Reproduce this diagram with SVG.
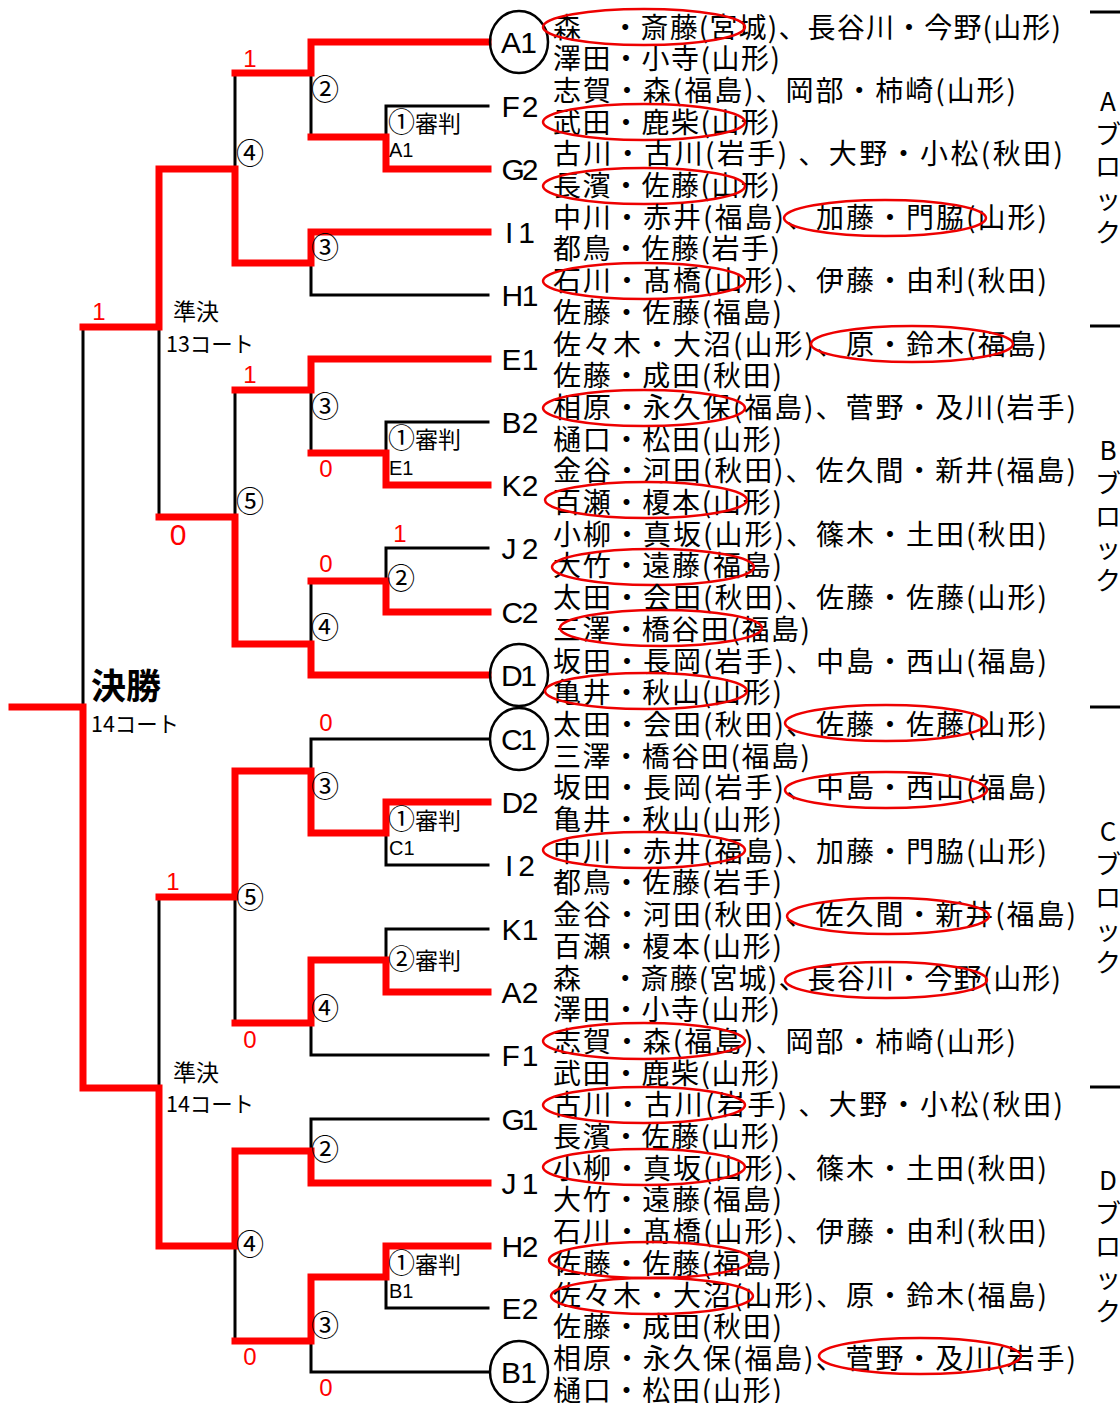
<svg xmlns="http://www.w3.org/2000/svg" width="1120" height="1403" viewBox="0 0 1120 1403">
<style>
.t{font-family:"Noto Sans CJK JP",sans-serif;font-size:28px;fill:#000}
.lb{font-family:"Liberation Sans",sans-serif;font-size:30px;fill:#000;text-anchor:middle}
.n{font-family:"Noto Sans CJK JP",sans-serif;font-size:28px;fill:#000}
.ref{font-family:"Noto Sans CJK JP",sans-serif;font-size:23px;fill:#000}
.ref .cn{font-size:27px}
.sm{font-family:"Liberation Sans",sans-serif;font-size:20px;fill:#000}
.sc{font-family:"Liberation Sans",sans-serif;font-size:24px;fill:#f00;text-anchor:middle}
.big{font-size:30px}
.cap{font-family:"Noto Sans CJK JP",sans-serif;font-size:23px;fill:#000}
.court{font-size:22px}
.fin{font-size:35px;font-weight:bold}
.blk{font-family:"Noto Sans CJK JP",sans-serif;font-size:26px;fill:#000;text-anchor:middle}
.w{fill:none;stroke:#f00;stroke-width:7;stroke-linejoin:miter;stroke-linecap:square}
.l{fill:none;stroke:#000;stroke-width:3;stroke-linecap:square}
.ov{fill:none;stroke:#e00;stroke-width:2.5}
.c{fill:none;stroke:#000;stroke-width:2.5}
.sep{stroke:#000;stroke-width:3}
</style>
<rect width="1120" height="1403" fill="#fff"/>
<g id="connectors">
<path class="l" d="M311,73V137 M488,106H386V137 M488,295H311V263 M235,73V169 M159,327V517 M83,327V707 M311,390V453 M488,422H386V453 M488,548H386V581 M311,581V644 M235,390V517 M488,739H311V771 M488,865H386V833 M488,929H386V960 M488,1055H311V1023 M235,897V1023 M159,897V1088 M488,1119H311V1151 M488,1308H386V1277 M488,1372H311V1341 M235,1246V1341"/>
<path class="w" d="M488,42H311V73H235"/>
<path class="w" d="M488,169H386V137H311"/>
<path class="w" d="M488,232H311V263H235V169H159V327H83"/>
<path class="w" d="M488,359H311V390H235"/>
<path class="w" d="M488,485H386V453H311"/>
<path class="w" d="M488,612H386V581H311"/>
<path class="w" d="M488,675H311V644H235V517H159"/>
<path class="w" d="M488,802H386V833H311V771H235V897H159"/>
<path class="w" d="M488,992H386V960H311V1023H235"/>
<path class="w" d="M488,1183H311V1151H235V1246H159V1088H83V707H12"/>
<path class="w" d="M488,1246H386V1277H311V1341H235"/>
</g>
<g id="round-labels">
<text class="n" x="311" y="100">②</text>
<text class="n" x="236" y="164">④</text>
<text class="n" x="311" y="258">③</text>
<text class="ref" x="388" y="132"><tspan class="cn">①</tspan>審判</text>
<text class="sm" x="389" y="157">A1</text>
<text class="n" x="311" y="417">③</text>
<text class="n" x="236" y="512">⑤</text>
<text class="ref" x="388" y="448"><tspan class="cn">①</tspan>審判</text>
<text class="sm" x="389" y="475">E1</text>
<text class="n" x="387" y="589">②</text>
<text class="n" x="311" y="638">④</text>
<text class="n" x="311" y="797">③</text>
<text class="ref" x="388" y="829"><tspan class="cn">①</tspan>審判</text>
<text class="sm" x="389" y="855">C1</text>
<text class="n" x="236" y="908">⑤</text>
<text class="ref" x="388" y="969"><tspan class="cn">②</tspan>審判</text>
<text class="n" x="311" y="1019">④</text>
<text class="n" x="311" y="1160">②</text>
<text class="n" x="236" y="1255">④</text>
<text class="ref" x="388" y="1273"><tspan class="cn">①</tspan>審判</text>
<text class="sm" x="389" y="1298">B1</text>
<text class="n" x="311" y="1336">③</text>
<text class="cap" x="173" y="320">準決</text>
<text class="cap court" x="166" y="352" textLength="88" lengthAdjust="spacingAndGlyphs">13コート</text>
<text class="cap fin" x="91" y="699">決勝</text>
<text class="cap court" x="91" y="732" textLength="88" lengthAdjust="spacingAndGlyphs">14コート</text>
<text class="cap" x="173" y="1081">準決</text>
<text class="cap court" x="166" y="1112" textLength="88" lengthAdjust="spacingAndGlyphs">14コート</text>
</g>
<g id="scores">
<text class="sc" x="250" y="67">1</text>
<text class="sc" x="99" y="320">1</text>
<text class="sc" x="250" y="383">1</text>
<text class="sc" x="326" y="477">0</text>
<text class="sc big" x="178" y="545">0</text>
<text class="sc" x="400" y="542">1</text>
<text class="sc" x="326" y="572">0</text>
<text class="sc" x="326" y="731">0</text>
<text class="sc" x="173" y="890">1</text>
<text class="sc" x="250" y="1048">0</text>
<text class="sc" x="250" y="1365">0</text>
<text class="sc" x="326" y="1396">0</text>
</g>
<g id="blocks">
<line class="sep" x1="1090" y1="12" x2="1120" y2="12"/>
<line class="sep" x1="1090" y1="326" x2="1120" y2="326"/>
<line class="sep" x1="1090" y1="707" x2="1120" y2="707"/>
<line class="sep" x1="1090" y1="1087" x2="1120" y2="1087"/>
<text class="blk" x="1108" y="111">A</text><text class="blk" x="1108" y="144">ブ</text><text class="blk" x="1108" y="176">ロ</text><text class="blk" x="1108" y="209">ッ</text><text class="blk" x="1108" y="242">ク</text>
<text class="blk" x="1108" y="460">B</text><text class="blk" x="1108" y="493">ブ</text><text class="blk" x="1108" y="526">ロ</text><text class="blk" x="1108" y="558">ッ</text><text class="blk" x="1108" y="590">ク</text>
<text class="blk" x="1108" y="841">C</text><text class="blk" x="1108" y="874">ブ</text><text class="blk" x="1108" y="907">ロ</text><text class="blk" x="1108" y="940">ッ</text><text class="blk" x="1108" y="972">ク</text>
<text class="blk" x="1108" y="1190">D</text><text class="blk" x="1108" y="1223">ブ</text><text class="blk" x="1108" y="1256">ロ</text><text class="blk" x="1108" y="1288">ッ</text><text class="blk" x="1108" y="1321">ク</text>
</g>
<g id="team-A1">
<ellipse class="c" cx="519" cy="42" rx="29" ry="31"/>
<text class="lb" x="519" y="53" textLength="36" lengthAdjust="spacing">A1</text>
<text class="t" x="553" y="37.5" textLength="508" lengthAdjust="spacing">森　・斎藤(宮城)、長谷川・今野(山形)</text>
<text class="t" x="553" y="69.2" textLength="227" lengthAdjust="spacing">澤田・小寺(山形)</text>
<ellipse class="ov" cx="644" cy="27" rx="101" ry="18"/>
</g>
<g id="team-F2">
<text class="lb" x="520" y="117" textLength="37" lengthAdjust="spacing">F2</text>
<text class="t" x="553" y="100.9" textLength="463" lengthAdjust="spacing">志賀・森(福島)、岡部・柿崎(山形)</text>
<text class="t" x="553" y="132.6" textLength="227" lengthAdjust="spacing">武田・鹿柴(山形)</text>
<ellipse class="ov" cx="644" cy="122" rx="101" ry="18"/>
</g>
<g id="team-G2">
<text class="lb" x="520" y="180" textLength="37" lengthAdjust="spacing">G2</text>
<text class="t" x="553" y="164.3" textLength="510" lengthAdjust="spacing">古川・古川(岩手) 、大野・小松(秋田)</text>
<text class="t" x="553" y="196" textLength="227" lengthAdjust="spacing">長濱・佐藤(山形)</text>
<ellipse class="ov" cx="644" cy="186" rx="101" ry="18"/>
</g>
<g id="team-I1">
<text class="lb" x="520" y="243" textLength="30" lengthAdjust="spacing">I1</text>
<text class="t" x="553" y="227.7" textLength="494" lengthAdjust="spacing">中川・赤井(福島)、加藤・門脇(山形)</text>
<text class="t" x="553" y="259.4" textLength="227" lengthAdjust="spacing">都鳥・佐藤(岩手)</text>
<ellipse class="ov" cx="885" cy="218" rx="101" ry="18"/>
</g>
<g id="team-H1">
<text class="lb" x="520" y="306" textLength="37" lengthAdjust="spacing">H1</text>
<text class="t" x="553" y="291.1" textLength="494" lengthAdjust="spacing">石川・髙橋(山形)、伊藤・由利(秋田)</text>
<text class="t" x="553" y="322.8" textLength="229" lengthAdjust="spacing">佐藤・佐藤(福島)</text>
<ellipse class="ov" cx="644" cy="281" rx="101" ry="18"/>
</g>
<g id="team-E1">
<text class="lb" x="520" y="370" textLength="37" lengthAdjust="spacing">E1</text>
<text class="t" x="553" y="354.5" textLength="494" lengthAdjust="spacing">佐々木・大沼(山形)、原・鈴木(福島)</text>
<text class="t" x="553" y="386.2" textLength="229" lengthAdjust="spacing">佐藤・成田(秋田)</text>
<ellipse class="ov" cx="912" cy="344" rx="101" ry="18"/>
</g>
<g id="team-B2">
<text class="lb" x="520" y="433" textLength="37" lengthAdjust="spacing">B2</text>
<text class="t" x="553" y="417.9" textLength="523" lengthAdjust="spacing">相原・永久保(福島)、菅野・及川(岩手)</text>
<text class="t" x="553" y="449.6" textLength="229" lengthAdjust="spacing">樋口・松田(山形)</text>
<ellipse class="ov" cx="644" cy="408" rx="101" ry="18"/>
</g>
<g id="team-K2">
<text class="lb" x="520" y="496" textLength="37" lengthAdjust="spacing">K2</text>
<text class="t" x="553" y="481.3" textLength="523" lengthAdjust="spacing">金谷・河田(秋田)、佐久間・新井(福島)</text>
<text class="t" x="553" y="513" textLength="229" lengthAdjust="spacing">百瀬・榎本(山形)</text>
<ellipse class="ov" cx="646" cy="500" rx="101" ry="18"/>
</g>
<g id="team-J2">
<text class="lb" x="520" y="559" textLength="37" lengthAdjust="spacing">J2</text>
<text class="t" x="553" y="544.7" textLength="494" lengthAdjust="spacing">小柳・真坂(山形)、篠木・土田(秋田)</text>
<text class="t" x="553" y="576.4" textLength="229" lengthAdjust="spacing">大竹・遠藤(福島)</text>
<ellipse class="ov" cx="653" cy="567" rx="101" ry="18"/>
</g>
<g id="team-C2">
<text class="lb" x="520" y="623" textLength="37" lengthAdjust="spacing">C2</text>
<text class="t" x="553" y="608.1" textLength="494" lengthAdjust="spacing">太田・会田(秋田)、佐藤・佐藤(山形)</text>
<text class="t" x="553" y="639.8" textLength="257" lengthAdjust="spacing">三澤・橋谷田(福島)</text>
<ellipse class="ov" cx="661" cy="628" rx="101" ry="18"/>
</g>
<g id="team-D1">
<ellipse class="c" cx="519" cy="675" rx="29" ry="31"/>
<text class="lb" x="519" y="686" textLength="36" lengthAdjust="spacing">D1</text>
<text class="t" x="553" y="671.5" textLength="494" lengthAdjust="spacing">坂田・長岡(岩手)、中島・西山(福島)</text>
<text class="t" x="553" y="703.2" textLength="229" lengthAdjust="spacing">亀井・秋山(山形)</text>
<ellipse class="ov" cx="646" cy="691" rx="101" ry="18"/>
</g>
<g id="team-C1">
<ellipse class="c" cx="519" cy="739" rx="29" ry="31"/>
<text class="lb" x="519" y="750" textLength="36" lengthAdjust="spacing">C1</text>
<text class="t" x="553" y="734.9" textLength="494" lengthAdjust="spacing">太田・会田(秋田)、佐藤・佐藤(山形)</text>
<text class="t" x="553" y="766.6" textLength="257" lengthAdjust="spacing">三澤・橋谷田(福島)</text>
<ellipse class="ov" cx="886" cy="723" rx="101" ry="18"/>
</g>
<g id="team-D2">
<text class="lb" x="520" y="813" textLength="37" lengthAdjust="spacing">D2</text>
<text class="t" x="553" y="798.3" textLength="494" lengthAdjust="spacing">坂田・長岡(岩手)、中島・西山(福島)</text>
<text class="t" x="553" y="830" textLength="229" lengthAdjust="spacing">亀井・秋山(山形)</text>
<ellipse class="ov" cx="886" cy="790" rx="101" ry="18"/>
</g>
<g id="team-I2">
<text class="lb" x="520" y="876" textLength="30" lengthAdjust="spacing">I2</text>
<text class="t" x="553" y="861.7" textLength="494" lengthAdjust="spacing">中川・赤井(福島)、加藤・門脇(山形)</text>
<text class="t" x="553" y="893.4" textLength="229" lengthAdjust="spacing">都鳥・佐藤(岩手)</text>
<ellipse class="ov" cx="644" cy="850" rx="101" ry="18"/>
</g>
<g id="team-K1">
<text class="lb" x="520" y="940" textLength="37" lengthAdjust="spacing">K1</text>
<text class="t" x="553" y="925.1" textLength="523" lengthAdjust="spacing">金谷・河田(秋田)、佐久間・新井(福島)</text>
<text class="t" x="553" y="956.8" textLength="229" lengthAdjust="spacing">百瀬・榎本(山形)</text>
<ellipse class="ov" cx="888" cy="916" rx="101" ry="18"/>
</g>
<g id="team-A2">
<text class="lb" x="520" y="1003" textLength="37" lengthAdjust="spacing">A2</text>
<text class="t" x="553" y="988.5" textLength="508" lengthAdjust="spacing">森　・斎藤(宮城)、長谷川・今野(山形)</text>
<text class="t" x="553" y="1020.2" textLength="227" lengthAdjust="spacing">澤田・小寺(山形)</text>
<ellipse class="ov" cx="886" cy="980" rx="101" ry="18"/>
</g>
<g id="team-F1">
<text class="lb" x="520" y="1066" textLength="37" lengthAdjust="spacing">F1</text>
<text class="t" x="553" y="1051.9" textLength="463" lengthAdjust="spacing">志賀・森(福島)、岡部・柿崎(山形)</text>
<text class="t" x="553" y="1083.6" textLength="227" lengthAdjust="spacing">武田・鹿柴(山形)</text>
<ellipse class="ov" cx="644" cy="1041" rx="101" ry="18"/>
</g>
<g id="team-G1">
<text class="lb" x="520" y="1130" textLength="37" lengthAdjust="spacing">G1</text>
<text class="t" x="553" y="1115.3" textLength="510" lengthAdjust="spacing">古川・古川(岩手) 、大野・小松(秋田)</text>
<text class="t" x="553" y="1147" textLength="227" lengthAdjust="spacing">長濱・佐藤(山形)</text>
<ellipse class="ov" cx="644" cy="1105" rx="101" ry="18"/>
</g>
<g id="team-J1">
<text class="lb" x="520" y="1194" textLength="37" lengthAdjust="spacing">J1</text>
<text class="t" x="553" y="1178.7" textLength="494" lengthAdjust="spacing">小柳・真坂(山形)、篠木・土田(秋田)</text>
<text class="t" x="553" y="1210.4" textLength="229" lengthAdjust="spacing">大竹・遠藤(福島)</text>
<ellipse class="ov" cx="644" cy="1167" rx="101" ry="18"/>
</g>
<g id="team-H2">
<text class="lb" x="520" y="1257" textLength="37" lengthAdjust="spacing">H2</text>
<text class="t" x="553" y="1242.1" textLength="494" lengthAdjust="spacing">石川・髙橋(山形)、伊藤・由利(秋田)</text>
<text class="t" x="553" y="1273.8" textLength="229" lengthAdjust="spacing">佐藤・佐藤(福島)</text>
<ellipse class="ov" cx="650" cy="1260" rx="101" ry="18"/>
</g>
<g id="team-E2">
<text class="lb" x="520" y="1319" textLength="37" lengthAdjust="spacing">E2</text>
<text class="t" x="553" y="1305.5" textLength="494" lengthAdjust="spacing">佐々木・大沼(山形)、原・鈴木(福島)</text>
<text class="t" x="553" y="1337.2" textLength="229" lengthAdjust="spacing">佐藤・成田(秋田)</text>
<ellipse class="ov" cx="652" cy="1296" rx="101" ry="18"/>
</g>
<g id="team-B1">
<ellipse class="c" cx="519" cy="1372" rx="29" ry="31"/>
<text class="lb" x="519" y="1383" textLength="36" lengthAdjust="spacing">B1</text>
<text class="t" x="553" y="1368.9" textLength="523" lengthAdjust="spacing">相原・永久保(福島)、菅野・及川(岩手)</text>
<text class="t" x="553" y="1400.6" textLength="229" lengthAdjust="spacing">樋口・松田(山形)</text>
<ellipse class="ov" cx="920" cy="1356" rx="101" ry="18"/>
</g>
</svg>
